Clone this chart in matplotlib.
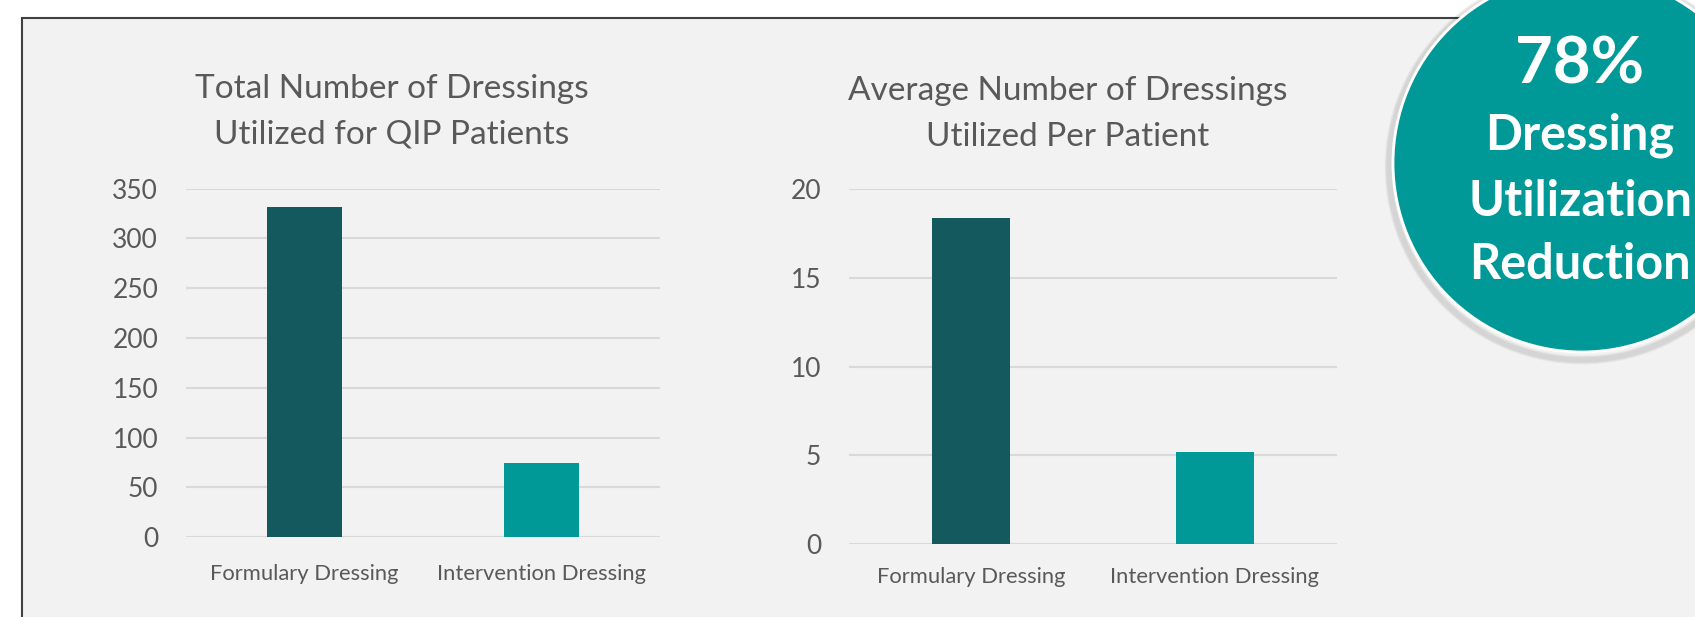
import numpy as np
import matplotlib
matplotlib.use("Agg")
import matplotlib.pyplot as plt
from matplotlib.patches import Rectangle, Circle

plt.rcParams["font.family"] = ["Lato", "DejaVu Sans"]

# data
categories = ["Formulary Dressing", "Intervention Dressing"]
total_dressings = [332, 75]
avg_dressings = [18.4, 5.2]
total_ticks = [0, 50, 100, 150, 200, 250, 300, 350]
avg_ticks = [0, 5, 10, 15, 20]
bar_colors = ["#14595d", "#009998"]
circle_lines = ["78%", "Dressing", "Utilization", "Reduction"]

W, H = 1695, 617
fig = plt.figure(figsize=(W / 100, H / 100), dpi=100)

# background panel in pixel coordinates
bg = fig.add_axes([0, 0, 1, 1], zorder=0)
bg.set_xlim(0, W)
bg.set_ylim(H, 0)
bg.axis("off")
bg.add_patch(Rectangle((22, 18), 2000, 1000, facecolor="#f2f2f2",
                       edgecolor="#404040", linewidth=1.5))

text_col = "#595959"
grid_col = "#d9d9d9"


def bar_panel(rect, values, ticks, title_lines, title_x, title_y, xpad):
    ax = fig.add_axes(rect, zorder=1)
    ax.patch.set_alpha(0)
    x = np.arange(len(categories))
    ax.bar(x, values, width=0.316, color=bar_colors, zorder=3)
    ax.set_xlim(-0.5, len(categories) - 0.5)
    ax.set_ylim(ticks[0], ticks[-1])
    ax.set_yticks(ticks)
    ax.set_xticks(x)
    ax.set_xticklabels(categories, fontsize=15.8, color=text_col)
    ax.tick_params(axis="y", length=0, pad=20, labelsize=19, labelcolor=text_col)
    ax.tick_params(axis="x", length=0, pad=xpad)
    ax.yaxis.grid(True, color=grid_col, linewidth=1.5, zorder=0)
    ax.set_axisbelow(True)
    for s in ax.spines.values():
        s.set_visible(False)
    for i, line in enumerate(title_lines):
        bg.text(title_x, title_y + i * 46, line, fontsize=24, color=text_col,
                ha="center", va="baseline")
    return ax


bar_panel([186 / W, 1 - 537.3 / H, 474 / W, 348.6 / H], total_dressings, total_ticks,
          ["Total Number of Dressings", "Utilized for QIP Patients"], 392, 98, 19)
bar_panel([849 / W, 1 - 543.7 / H, 488 / W, 354.4 / H], avg_dressings, avg_ticks,
          ["Average Number of Dressings", "Utilized Per Patient"], 1068, 100, 17)

# callout circle
top = fig.add_axes([0, 0, 1, 1], zorder=5)
top.set_xlim(0, W)
top.set_ylim(H, 0)
top.axis("off")
cx, cy, r = 1582, 163, 189
for k in range(7):
    top.add_patch(Circle((cx, cy + 4), r + 1 + k, facecolor="none",
                         edgecolor="#000000", alpha=0.045, linewidth=2))
top.add_patch(Circle((cx, cy), r, facecolor="#009998", edgecolor="white",
                     linewidth=2))
sizes = [47, 35, 35, 35]
baselines = [83, 150, 216, 279]
for txt, fs, yb in zip(circle_lines, sizes, baselines):
    top.text(1580, yb, txt, fontsize=fs, fontweight="bold", color="white",
             ha="center", va="baseline")

fig.savefig("out.png", dpi=100)
